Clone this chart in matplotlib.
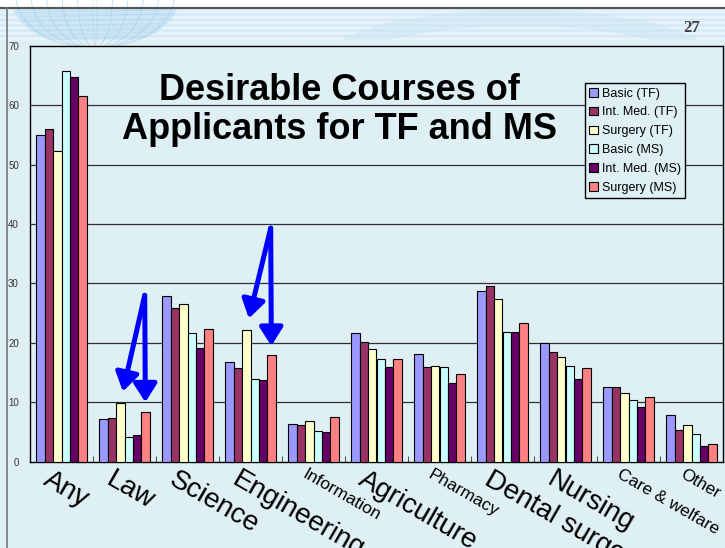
import numpy as np
import matplotlib
matplotlib.use("Agg")
import matplotlib.pyplot as plt
from matplotlib.patches import Ellipse, Rectangle

plt.rcParams["font.family"] = ["Liberation Sans", "DejaVu Sans"]

categories = ["Any", "Law", "Science", "Engineering", "Information", "Agriculture",
              "Pharmacy", "Dental surgery", "Nursing", "Care & welfare", "Other"]
small_labels = ["Information", "Pharmacy", "Care & welfare", "Other"]

series_names = ["Basic (TF)", "Int. Med. (TF)", "Surgery (TF)",
                "Basic (MS)", "Int. Med. (MS)", "Surgery (MS)"]
basic_tf = [55.0, 7.2, 27.8, 16.7, 6.4, 21.7, 18.2, 28.8, 19.9, 12.5, 7.9]
intmed_tf = [56.0, 7.4, 25.8, 15.7, 6.1, 20.1, 15.9, 29.6, 18.5, 12.6, 5.3]
surgery_tf = [52.2, 9.8, 26.5, 22.1, 6.9, 18.9, 16.1, 27.4, 17.7, 11.6, 6.1]
basic_ms = [65.8, 4.2, 21.6, 14.0, 5.2, 17.2, 16.0, 21.9, 16.1, 10.3, 4.7]
intmed_ms = [64.8, 4.5, 19.1, 13.8, 5.0, 15.9, 13.3, 21.9, 14.0, 9.2, 2.6]
surgery_ms = [61.6, 8.4, 22.3, 17.9, 7.5, 17.3, 14.8, 23.4, 15.7, 10.9, 3.0]
series = [basic_tf, intmed_tf, surgery_tf, basic_ms, intmed_ms, surgery_ms]
colors = ["#9999FF", "#993366", "#FFFFCC", "#CCFFFF", "#660066", "#FF8080"]

# arrows highlighting Surgery (TF) / Surgery (MS)
arrow_groups = ["Law", "Engineering"]
arrow_start = [28.0, 39.3]

bg = "#DFF0F4"
fig = plt.figure(figsize=(7.25, 5.48), dpi=100, facecolor=bg)

# header band with stripes and a faint globe
hdr = fig.add_axes([0, 1 - 40 / 548, 1, 32 / 548])
stripes = np.array([[0.0], [1.0]] * 6)
hdr.imshow(stripes, aspect="auto", cmap=matplotlib.colors.ListedColormap(["#D4EAF6", "#EAF5FB"]),
           extent=[0, 725, 32, 0])
globe = Ellipse((95, -12), 170, 104, facecolor="#B8DCF1", edgecolor="none", alpha=0.5)
hdr.add_patch(globe)
for k in range(-5, 6):
    e = Ellipse((95, -12), 170 * abs(k) / 5.5 + 4, 104, facecolor="none",
                edgecolor="#A4D0EC", lw=0.5, alpha=0.5)
    e.set_clip_path(globe)
    hdr.add_patch(e)
for k in range(1, 9):
    ln, = hdr.plot([0, 200], [k * 4.5 - 4, k * 4.5 - 8], color="#A4D0EC", lw=0.5, alpha=0.5)
    ln.set_clip_path(globe)
swirl = Ellipse((520, 62), 390, 104, facecolor="none", edgecolor="#CCE4F2", lw=12, alpha=0.5)
hdr.add_patch(swirl)
hdr.set_xlim(0, 725)
hdr.set_ylim(32, 0)
hdr.axis("off")
hdr.text(700, 20, "27", fontsize=12, fontweight="bold", family="Liberation Serif",
         color="#404040", ha="right", va="center")

# slide frame lines
fig.add_artist(plt.Line2D([0, 1], [1 - 8 / 548] * 2, color="#555555", lw=1.5))
fig.add_artist(plt.Line2D([7 / 725] * 2, [0, 1 - 8 / 548], color="#777777", lw=1.2))
fig.patches.append(Rectangle((0, 1 - 8 / 548), 1, 8 / 548, transform=fig.transFigure,
                             facecolor="white", edgecolor="none", zorder=-1))

ax = fig.add_axes([30 / 725, (548 - 461.7) / 548, 693 / 725, 416 / 548])
ax.set_facecolor(bg)

x = np.arange(len(categories))
n = len(series)
width = 0.1323
for i, (vals, name, c) in enumerate(zip(series, series_names, colors)):
    ax.bar(x + (i - (n - 1) / 2) * width, vals, width, color=c, edgecolor="black",
           linewidth=0.8, label=name, zorder=3)

ax.set_xlim(-0.5, len(categories) - 0.5)
ax.set_ylim(0, 70)
ax.set_yticks(np.arange(0, 71, 10))
ax.tick_params(axis="y", length=0, pad=8, labelsize=7, labelcolor="#333333")
for yv in range(10, 70, 10):
    ax.axhline(yv, color="#303030", lw=0.9, zorder=1)
for s in ax.spines.values():
    s.set_linewidth(1.0)
    s.set_color("black")

ax.set_xticks(np.arange(len(categories) + 1) - 0.5)
ax.set_xticklabels([])
ax.tick_params(axis="x", direction="in", length=4, width=0.8, color="#555555")

xt = ax.get_xaxis_transform()
for i, cat in enumerate(categories):
    small = cat in small_labels
    ax.text(i - (0.10 if small else 0.15), -0.012, cat, transform=xt, rotation=-30,
            rotation_mode="anchor", ha="left", va="top", fontsize=12.5 if small else 20,
            clip_on=False)

ax.text(0.446, 0.845, "Desirable Courses of\nApplicants for TF and MS", transform=ax.transAxes,
        ha="center", va="center", fontsize=26, fontweight="bold", linespacing=1.15)

leg = ax.legend(loc="upper left", bbox_to_anchor=(0.801, 0.910), fontsize=9,
                handlelength=0.7, handleheight=0.7, handletextpad=0.3, labelspacing=0.55,
                borderpad=0.35, borderaxespad=0, fancybox=False, framealpha=1,
                facecolor=bg, edgecolor="black")
leg.get_frame().set_linewidth(1.0)
leg.set_zorder(5)

for g, ys in zip(arrow_groups, arrow_start):
    gi = categories.index(g)
    xs = gi + (5 - (n - 1) / 2) * width - 0.01
    tips = [(gi + (2 - (n - 1) / 2) * width + 0.04, surgery_tf[gi] + 2.0),
            (gi + (5 - (n - 1) / 2) * width, surgery_ms[gi] + 1.6)]
    for tx, ty in tips:
        ax.annotate("", xy=(tx, ty), xytext=(xs, ys),
                    arrowprops=dict(arrowstyle="-|>,head_length=0.55,head_width=0.35",
                                    color="#0000FF", lw=3.6, mutation_scale=20,
                                    shrinkA=0, shrinkB=0), zorder=6)

fig.savefig("out.png", dpi=100, facecolor=bg)
